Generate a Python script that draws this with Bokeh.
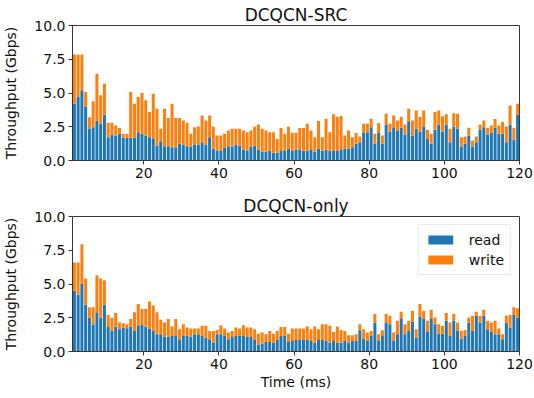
from bokeh.plotting import figure
from bokeh.layouts import column
from bokeh.models import ColumnDataSource, FixedTicker, PrintfTickFormatter, Range1d
from bokeh.transform import dodge
from bokeh.embed import file_html
from bokeh.resources import INLINE

# ---------------- data ----------------
time_ms = list(range(1, 120))
x_ticks = [20, 40, 60, 80, 100, 120]
y_ticks = [0, 2.5, 5.0, 7.5, 10.0]
series_names = ["read", "write"]
titles = ["DCQCN-SRC", "DCQCN-only"]

src_read = [4.2, 4.75, 5.2, 3.96, 2.35, 2.47, 2.97, 2.72, 3.39, 1.73,
            1.93, 1.86, 1.98, 1.68, 1.68, 1.68, 1.68, 2.1, 1.98, 1.86,
            1.73, 1.65, 1.1, 1.43, 1.06, 1.06, 0.99, 0.99, 1.24, 1.19,
            1.06, 1.04, 1.19, 1.19, 1.36, 1.19, 1.73, 0.87, 0.74, 0.7,
            0.92, 1.06, 1.04, 1.19, 1.12, 0.82, 0.74, 1.04, 1.09, 0.79,
            0.67, 0.67, 0.7, 0.57, 0.57, 0.7, 0.7, 0.89, 0.7, 0.82,
            0.82, 0.72, 0.72, 0.84, 0.67, 0.89, 0.74, 0.79, 0.72, 0.7,
            0.7, 0.84, 0.89, 0.87, 0.99, 1.24, 1.36, 2.03, 2.1, 2.47,
            1.24, 2.03, 1.24, 2.67, 2.15, 2.4, 2.23, 2.43, 1.93, 2.9,
            1.86, 2.35, 2.15, 2.5, 1.6, 1.24, 2.28, 2.67, 2.15, 2.67,
            1.36, 2.52, 2.35, 1.04, 1.24, 1.86, 1.04, 1.36, 2.28, 2.47,
            1.93, 2.05, 2.43, 1.98, 1.98, 1.36, 2.67, 1.56, 3.39]
src_write = [3.65, 3.1, 2.65, 1.11, 0.85, 1.91, 3.46, 2.11, 2.3, 1.07,
             0.87, 0.74, 0.42, 0.3, 0.3, 3.39, 2.52, 2.6, 3.02, 2.6,
             1.87, 3.3, 2.74, 0.92, 2.78, 2.08, 3.21, 2.15, 1.9, 1.78,
             1.74, 0.94, 1.28, 1.33, 1.98, 1.78, 1.61, 1.63, 1.12, 1.16,
             1.06, 1.17, 1.31, 1.16, 1.23, 1.41, 1.36, 1.19, 1.41, 1.88,
             1.68, 1.56, 1.4, 1.53, 1.03, 1.7, 1.28, 1.61, 1.35, 1.23,
             1.58, 1.68, 2.0, 1.39, 1.06, 2.03, 0.99, 2.3, 1.38, 2.72,
             2.52, 2.45, 0.97, 1.36, 0.74, 0.79, 0.42, 0.69, 0.62, 0.62,
             0.74, 0.74, 0.62, 0.8, 0.57, 0.94, 0.74, 0.79, 0.74, 0.94,
             1.11, 1.36, 1.07, 1.21, 0.68, 0.74, 1.31, 1.04, 1.12, 0.75,
             0.99, 0.98, 1.12, 0.69, 0.54, 0.57, 0.45, 0.42, 0.39, 0.5,
             0.5, 0.55, 0.64, 0.62, 0.87, 1.16, 1.41, 0.87, 0.81]

only_read = [4.5, 4.2, 5.0, 3.47, 2.5, 2.0, 2.9, 2.5, 3.47, 1.82,
             1.52, 1.85, 1.65, 1.77, 1.72, 1.85, 1.52, 1.95, 1.97, 1.85,
             1.7, 1.52, 1.27, 1.27, 1.1, 1.1, 1.15, 1.15, 0.9, 1.15,
             1.15, 1.1, 1.27, 1.27, 1.15, 1.02, 0.9, 0.65, 1.27, 1.27,
             1.15, 0.9, 1.07, 1.15, 1.15, 1.15, 1.07, 1.07, 0.85, 0.52,
             0.6, 0.7, 0.7, 0.65, 0.85, 1.15, 1.15, 0.7, 0.77, 0.85,
             0.85, 0.9, 0.85, 0.77, 0.65, 0.85, 0.85, 0.77, 0.65, 0.77,
             0.65, 0.65, 0.77, 0.65, 0.77, 0.77, 1.57, 0.95, 0.77, 1.15,
             2.15, 0.77, 1.15, 2.15, 2.02, 0.77, 1.27, 2.4, 1.27, 1.52,
             2.2, 1.02, 2.57, 2.4, 1.45, 2.4, 2.02, 1.32, 1.32, 2.27,
             1.15, 2.27, 1.52, 0.95, 1.15, 2.15, 1.52, 2.65, 2.15, 2.65,
             1.65, 1.45, 1.27, 1.27, 0.9, 2.15, 1.77, 2.7, 2.5]
only_write = [2.1, 2.4, 2.95, 1.93, 0.77, 1.27, 2.75, 2.9, 1.8, 0.88,
              0.98, 1.0, 0.5, 0.33, 0.3, 0.55, 1.38, 1.57, 1.18, 1.3,
              2.0, 1.88, 1.63, 1.08, 1.05, 1.3, 0.7, 1.25, 0.75, 0.87,
              0.62, 0.6, 0.43, 0.43, 0.75, 0.88, 0.62, 0.87, 0.33, 0.68,
              0.55, 0.5, 0.45, 0.62, 0.55, 0.8, 0.7, 0.7, 0.8, 0.8,
              0.8, 0.57, 0.82, 0.67, 0.67, 0.67, 0.67, 0.62, 0.93, 0.85,
              0.85, 0.8, 1.0, 0.88, 1.2, 0.8, 1.17, 1.25, 1.25, 0.68,
              1.2, 0.95, 0.75, 0.55, 0.43, 0.5, 0.45, 0.7, 0.63, 0.37,
              0.62, 0.5, 0.42, 0.62, 0.63, 0.63, 1.0, 0.55, 0.75, 0.75,
              0.82, 0.63, 0.95, 0.62, 0.82, 0.7, 0.5, 0.7, 0.58, 0.58,
              1.0, 0.5, 0.63, 0.57, 0.45, 0.37, 1.13, 0.3, 0.5, 0.45,
              0.62, 0.7, 1.0, 0.43, 0.37, 0.5, 0.93, 0.57, 0.7]

colors = ["#1f77b4", "#ff7f0e"]
FONT = "DejaVu Sans"
SPINE = "#3d3535"


def make_panel(title, read, write, height, top_border, bottom_border, show_xlabel, show_legend):
    p = figure(width=534, height=height, output_backend="svg", toolbar_location=None,
               x_range=Range1d(1, 120), y_range=Range1d(0, 10),
               min_border_left=72, min_border_right=15,
               min_border_top=top_border, min_border_bottom=bottom_border,
               background_fill_color="white", border_fill_color="white")
    src = ColumnDataSource(dict(time=time_ms, read=read, write=write))
    kw = {}
    if show_legend:
        kw["legend_label"] = series_names
    p.vbar_stack(series_names, x=dodge("time", 0.5), width=0.8, color=colors,
                 line_color=None, source=src, **kw)

    p.title.text = title
    p.title.align = "center"
    p.title.text_font = FONT
    p.title.text_font_size = "17px"
    p.title.text_font_style = "normal"
    p.title.text_color = "#111111"
    p.title.standoff = 1

    p.xgrid.grid_line_color = None
    p.ygrid.grid_line_color = None
    p.outline_line_color = SPINE
    p.outline_line_width = 1

    p.xaxis.ticker = FixedTicker(ticks=x_ticks)
    p.yaxis.ticker = FixedTicker(ticks=y_ticks)
    p.yaxis.formatter = PrintfTickFormatter(format="%.1f")
    for ax in (p.xaxis, p.yaxis):
        ax.axis_line_color = SPINE
        ax.major_tick_line_color = SPINE
        ax.major_tick_in = 0
        ax.major_tick_out = 4
        ax.minor_tick_line_color = None
        ax.major_label_text_font = FONT
        ax.major_label_text_font_size = "14px"
        ax.major_label_text_color = "#111111"
        ax.major_label_standoff = 3
        ax.axis_label_text_font = FONT
        ax.axis_label_text_font_size = "14px"
        ax.axis_label_text_font_style = "normal"
        ax.axis_label_text_color = "#111111"
    p.yaxis.axis_label = "Throughput (Gbps)"
    p.yaxis.axis_label_standoff = 12
    if show_xlabel:
        p.xaxis.axis_label = "Time (ms)"
        p.xaxis.axis_label_standoff = 2

    if show_legend:
        lg = p.legend[0]
        lg.location = "top_right"
        lg.margin = 8
        lg.padding = 6
        lg.spacing = 3
        lg.glyph_width = 31
        lg.glyph_height = 11
        lg.label_height = 17
        lg.label_standoff = 13
        lg.label_text_font = FONT
        lg.label_text_font_size = "14px"
        lg.label_text_color = "#111111"
        lg.border_line_color = "#d8d8d8"
        lg.background_fill_alpha = 0.85
    return p


p1 = make_panel(titles[0], src_read, src_write, 190, 25, 30, False, False)
p2 = make_panel(titles[1], only_read, only_write, 208, 26, 47, True, True)

layout = column(p1, p2, spacing=0)
open("out.html", "w").write(file_html(layout, INLINE))
